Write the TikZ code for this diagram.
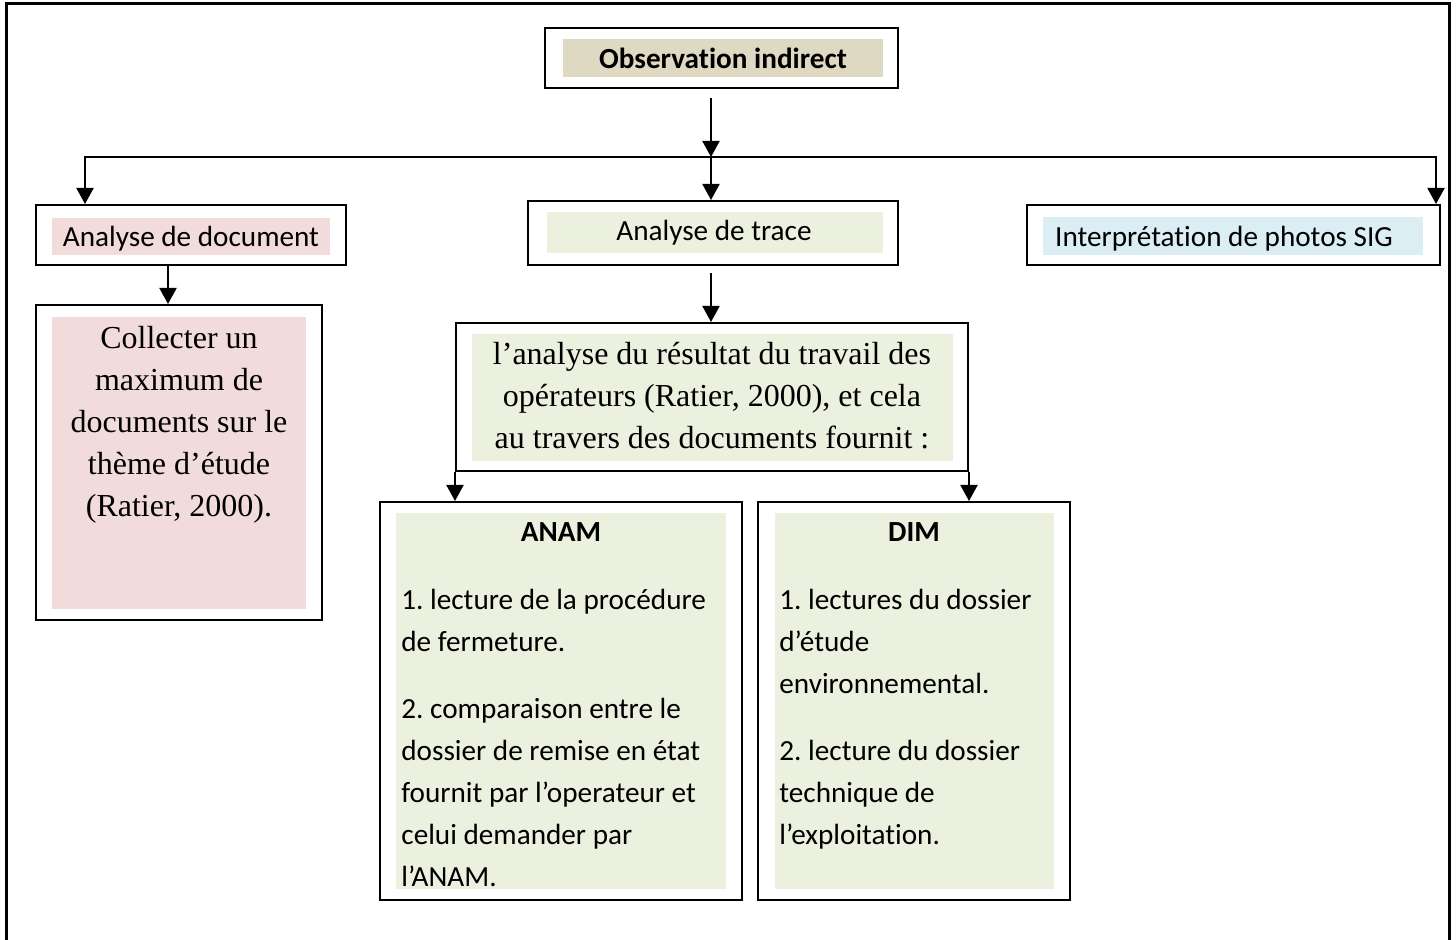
\documentclass[tikz,border=0pt]{standalone}
\usepackage{fontspec}
\setmainfont{Carlito}[Ligatures=NoCommon]
\newfontfamily\timesfont{Liberation Serif}
\usetikzlibrary{arrows.meta,fit}
\definecolor{tanfill}{RGB}{221,217,195}
\definecolor{pinkfill}{RGB}{242,220,219}
\definecolor{greenfill}{RGB}{235,241,222}
\definecolor{bluefill}{RGB}{219,238,243}
\frenchspacing

\begin{document}
\begin{tikzpicture}[x=0.5pt,y=-0.5pt,
  outerbox/.style={draw=black,line width=1pt,inner sep=0pt},
  link/.style={line width=1pt,-{Triangle[width=8.5pt,length=8pt]}},
  frameline/.style={line width=1.5pt},
  sanslabel/.style={font=\fontsize{14.6}{21}\selectfont,inner sep=0pt},
  sansbold/.style={font=\fontsize{14.6}{21}\selectfont\bfseries,inner sep=0pt},
  seriflabel/.style={font=\timesfont\fontsize{16}{21}\selectfont,inner sep=0pt,align=center}]

\useasboundingbox (0,0) rectangle (1456,940);

% page frame, open at the bottom
\draw[frameline] (6,940) -- (6,4) -- (1449,4) -- (1449,940);

% shaded text areas
\fill[tanfill]   (563,39)  rectangle (883,77);
\fill[pinkfill]  (52,218)  rectangle (330,255);
\fill[greenfill] (547,212) rectangle (883,253);
\fill[bluefill]  (1043,217) rectangle (1423,255);
\fill[pinkfill]  (52,317)  rectangle (306,609);
\fill[greenfill] (472,334) rectangle (953,461);
\fill[greenfill] (396,513) rectangle (726,889);
\fill[greenfill] (775,513) rectangle (1054,889);

% boxes
\node[outerbox,fit={(545,28) (898,88)}]    (obs) {};
\node[outerbox,fit={(36,205) (346,265)}]   (doc) {};
\node[outerbox,fit={(528,201) (898,265)}]  (trace) {};
\node[outerbox,fit={(1027,205) (1440,265)}] (sig) {};
\node[outerbox,fit={(36,305) (322,620)}]   (collect) {};
\node[outerbox,fit={(456,323) (968,471)}]  (result) {};
\node[outerbox,fit={(380,502) (742,900)}]  (anam) {};
\node[outerbox,fit={(758,502) (1070,900)}] (dim) {};

% texts
\node[sansbold]  (obstext)   at (723,58)   {Observation indirect};
\node[sanslabel] (doctext)   at (191,239)  {Analyse de document};
\node[sanslabel] (tracetext) at (714,233)  {Analyse de trace};
\node[sanslabel] (sigtext)   at (1224,239) {Interprétation de photos SIG};
\node[seriflabel] (collecttext) at (179,425)
  {Collecter un\\maximum de\\documents sur le\\thème d’étude\\(Ratier, 2000).};
\node[seriflabel] (resulttext) at (712,396)
  {l’analyse du résultat du travail des\\opérateurs (Ratier, 2000), et cela\\au travers des documents fournit :};
\node[sansbold]  (anamtitle) at (561,532) {ANAM};
\node[sanslabel,align=left,anchor=west] (anamtext) at (401,737.5)
  {1. lecture de la procédure\\de fermeture.\\[12.5pt]2. comparaison entre le\\dossier de remise en état\\fournit par l’operateur et\\celui demander par\\l’ANAM.};
\node[sansbold]  (dimtitle)  at (914,532) {DIM};
\node[sanslabel,align=left,anchor=west] (dimtext) at (779,719.5)
  {1. lectures du dossier\\d’étude\\environnemental.\\[12.5pt]2. lecture du dossier\\technique de\\l’exploitation.};

% connectors
\coordinate (obsout) at (711,98);
\coordinate (hmid)   at (711,157);
\coordinate (hleft)  at (85,157);
\coordinate (hright) at (1436,157);
\coordinate (colA)   at (168,0);
\coordinate (traceout) at (711,273);

\draw[link] (obsout) -- (hmid);
\draw[link] (hmid) -- (hleft) -- (hleft |- doc.north);
\draw[link] (hmid) -- (hright) -- (hright |- sig.north);
\draw[link] (hmid) -- (hmid |- trace.north);
\draw[link] (doc.south -| colA) -- (collect.north -| colA);
\draw[link] (traceout) -- (traceout |- result.north);
\draw[link] (result.south west) -- (result.south west |- anam.north);
\draw[link] (result.south east) -- (result.south east |- dim.north);
\end{tikzpicture}
\end{document}
